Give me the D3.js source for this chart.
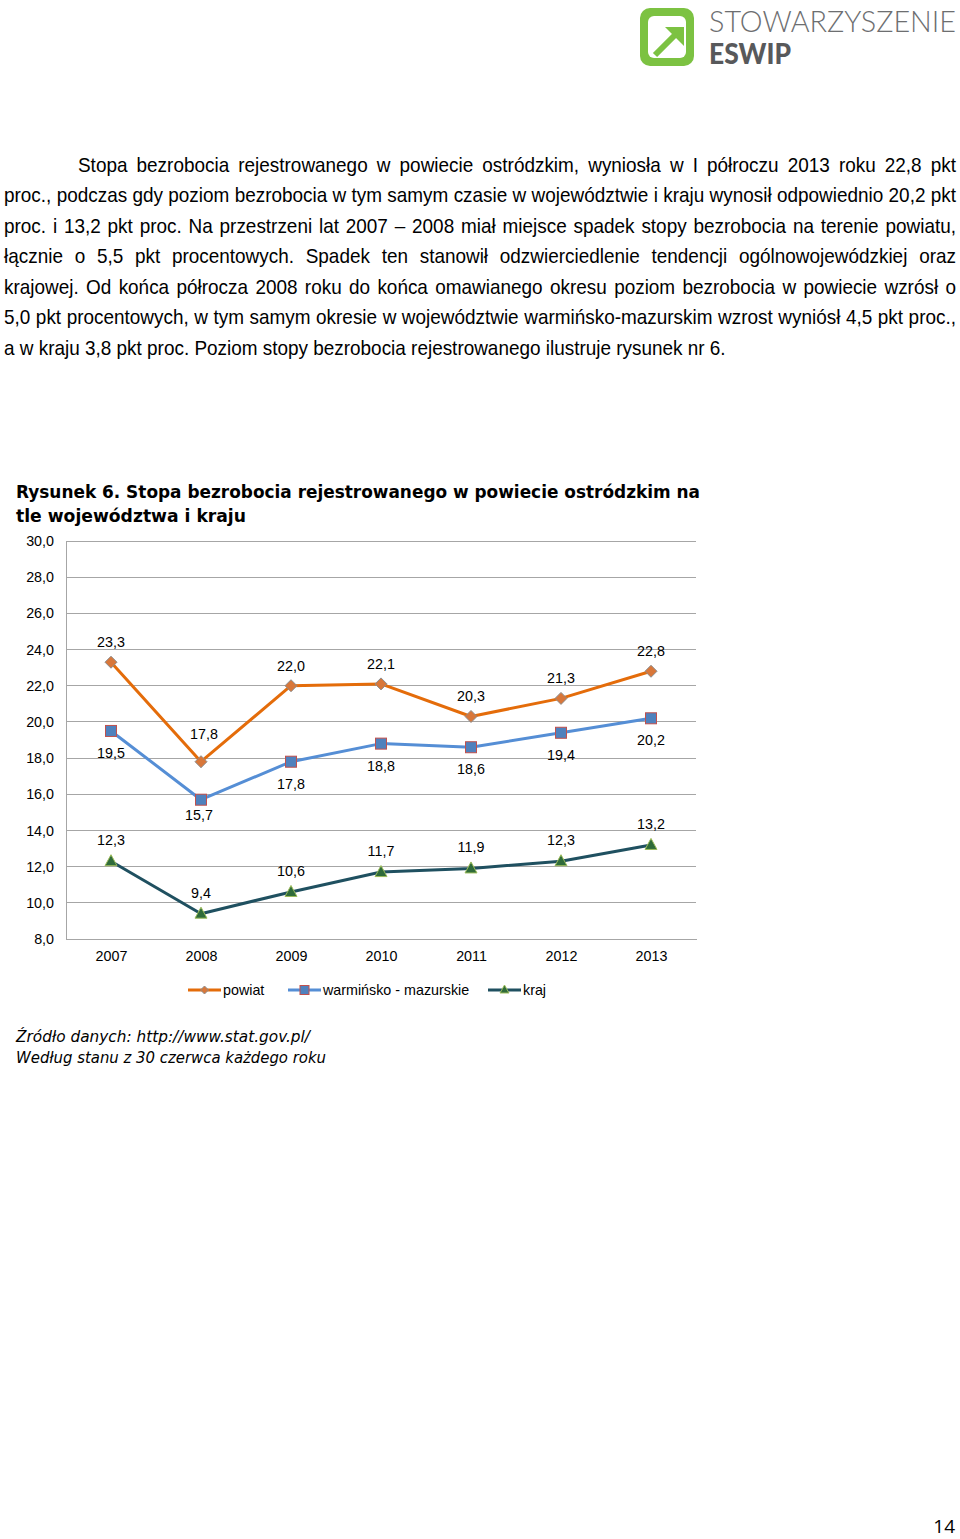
<!DOCTYPE html>
<html><head><meta charset="utf-8">
<script src="https://cdn.jsdelivr.net/npm/d3@7"></script>
<style>
html,body{margin:0;padding:0;background:#fff;}
svg{display:block;}
</style></head>
<body>
<svg id="page" width="960" height="1539"></svg>
<script>
// ---------- data ----------
const years = ["2007","2008","2009","2010","2011","2012","2013"];
const powiat = [23.3, 17.8, 22.0, 22.1, 20.3, 21.3, 22.8];
const wojewodztwo = [19.5, 15.7, 17.8, 18.8, 18.6, 19.4, 20.2];
const kraj = [12.3, 9.4, 10.6, 11.7, 11.9, 12.3, 13.2];
const yTicks = [8, 10, 12, 14, 16, 18, 20, 22, 24, 26, 28, 30];
const seriesNames = ["powiat", "warmińsko - mazurskie", "kraj"];

const paragraphLines = [
  "Stopa bezrobocia rejestrowanego w powiecie ostródzkim, wyniosła w I półroczu 2013 roku 22,8 pkt",
  "proc., podczas gdy poziom bezrobocia w tym samym czasie w województwie i kraju wynosił odpowiednio 20,2 pkt",
  "proc. i 13,2 pkt proc. Na przestrzeni lat 2007 – 2008 miał miejsce spadek stopy bezrobocia na terenie powiatu,",
  "łącznie o 5,5 pkt procentowych. Spadek ten stanowił odzwierciedlenie tendencji ogólnowojewódzkiej oraz",
  "krajowej. Od końca półrocza 2008 roku do końca omawianego okresu poziom bezrobocia w powiecie wzrósł o",
  "5,0 pkt procentowych, w tym samym okresie w województwie warmińsko-mazurskim wzrost wyniósł 4,5 pkt proc.,",
  "a w kraju 3,8 pkt proc. Poziom stopy bezrobocia rejestrowanego ilustruje rysunek nr 6."
];
const titleLines = ["Rysunek 6. Stopa bezrobocia rejestrowanego w powiecie ostródzkim na", "tle województwa i kraju"];
const sourceLines = ["Źródło danych: http://www.stat.gov.pl/", "Według stanu z 30 czerwca każdego roku"];

// ---------- page ----------
const svg = d3.select("#page");
svg.append("rect").attr("width", 960).attr("height", 1539).attr("fill", "#fff");

// logo
const logo = svg.append("g");
logo.append("rect").attr("x", 640).attr("y", 8).attr("width", 54).attr("height", 58).attr("rx", 10).attr("fill", "#7cc242");
logo.append("rect").attr("x", 648).attr("y", 16).attr("width", 38).attr("height", 42).attr("rx", 6).attr("fill", "#fff");
logo.append("line").attr("x1", 655).attr("y1", 55).attr("x2", 675).attr("y2", 35)
  .attr("stroke", "#7cc242").attr("stroke-width", 6);
logo.append("path").attr("d", "M665,27 L684,27 L684,46 Z").attr("fill", "#7cc242");
logo.append("text").attr("x", 709).attr("y", 32).text("STOWARZYSZENIE")
  .attr("font-family", "Lato, 'Open Sans', sans-serif").attr("font-weight", 300).attr("font-size", 29)
  .attr("fill", "#6d6e70").attr("textLength", 247).attr("lengthAdjust", "spacingAndGlyphs");
logo.append("text").attr("x", 709).attr("y", 64).text("ESWIP")
  .attr("font-family", "Lato, 'Open Sans', sans-serif").attr("font-weight", 900).attr("font-size", 29)
  .attr("fill", "#58595b").attr("textLength", 82).attr("lengthAdjust", "spacingAndGlyphs");

// paragraph (justified)
const pFont = "'Liberation Sans Narrow', 'Arial Narrow', 'Liberation Sans', Arial, sans-serif";
const pSize = 21;
const para = svg.append("g").attr("font-family", pFont).attr("font-size", pSize).attr("fill", "#000");
const measure = svg.append("text").attr("font-family", pFont).attr("font-size", pSize).attr("x", -9999).attr("y", -9999);
function w(s) { measure.text(s); return measure.node().getComputedTextLength(); }
const lastNatural = w(paragraphLines[6]);
const sx = 722 / lastNatural;
const pg = para.append("g").attr("transform", `scale(${sx},1)`);
const lineStep = 30.5;
paragraphLines.forEach((line, i) => {
  const y = 172 + i * lineStep;
  const x0 = (i === 0 ? 78 : 4) / sx;
  const x1 = 956 / sx;
  const words = line.split(" ");
  if (i === paragraphLines.length - 1) {
    pg.append("text").attr("x", x0).attr("y", y).text(line);
    return;
  }
  const widths = words.map(w);
  const total = d3.sum(widths);
  const gap = (x1 - x0 - total) / (words.length - 1);
  let x = x0;
  words.forEach((wd, j) => {
    pg.append("text").attr("x", x).attr("y", y).text(wd);
    x += widths[j] + gap;
  });
});
measure.remove();

// title
const tFont = "Tahoma, 'DejaVu Sans', Verdana, sans-serif";
svg.append("text").attr("x", 16).attr("y", 498).text(titleLines[0])
  .attr("font-family", tFont).attr("font-weight", "bold").attr("font-size", 17.5)
  .attr("textLength", 684).attr("lengthAdjust", "spacingAndGlyphs");
svg.append("text").attr("x", 16).attr("y", 522).text(titleLines[1])
  .attr("font-family", tFont).attr("font-weight", "bold").attr("font-size", 17.5)
  .attr("textLength", 230).attr("lengthAdjust", "spacingAndGlyphs");

// ---------- chart ----------
const locale = d3.formatLocale({decimal: ",", thousands: " ", grouping: [3], currency: ["", " zł"]});
const f1 = locale.format(".1f");
const cFont = "'Liberation Sans', Arial, sans-serif";
const cSize = 14.3;

const x = d3.scalePoint().domain(years).range([66, 696]).padding(0.5);
const y = d3.scaleLinear().domain([8, 30]).range([939, 541]);

const chart = svg.append("g").attr("font-family", cFont).attr("font-size", cSize);

// gridlines
chart.append("g").selectAll("line").data(yTicks).join("line")
  .attr("x1", 66).attr("x2", 696).attr("y1", d => y(d)).attr("y2", d => y(d))
  .attr("stroke", "#a6a6a6").attr("stroke-width", 1).attr("shape-rendering", "crispEdges");

// y axis
const yAxis = chart.append("g").attr("transform", "translate(66,0)")
  .call(d3.axisLeft(y).tickValues(yTicks).tickFormat(f1).tickSize(0).tickPadding(12));
yAxis.select(".domain").attr("stroke", "#a6a6a6").attr("shape-rendering", "crispEdges");
yAxis.selectAll("text").attr("font-family", cFont).attr("font-size", cSize).attr("fill", "#000");

// x axis
const xAxis = chart.append("g").attr("transform", "translate(0,939)")
  .call(d3.axisBottom(x).tickSize(0).tickPadding(12));
xAxis.select(".domain").attr("stroke", "#a6a6a6").attr("shape-rendering", "crispEdges");
xAxis.selectAll("text").attr("font-family", cFont).attr("font-size", cSize).attr("fill", "#000");

const styles = [
  {line: "#e46c0a", marker: "diamond", fill: "#d8773a", stroke: "#8d8d8d", labelDy: -20},
  {line: "#558ed5", marker: "square", fill: "#4f81bd", stroke: "#c0504d", labelDy: 22},
  {line: "#1f5060", marker: "triangle", fill: "#2f6b3a", stroke: "#9bbb59", labelDy: -21}
];
const labelNudge = {"0-2008": [3, -8], "1-2008": [-2, -7]};
const seriesValues = [powiat, wojewodztwo, kraj];

function drawMarker(g, type, cx, cy, s, st) {
  if (type === "diamond") {
    g.append("path").attr("d", `M${cx},${cy - s} L${cx + s},${cy} L${cx},${cy + s} L${cx - s},${cy} Z`)
      .attr("fill", st.fill).attr("stroke", st.stroke).attr("stroke-width", 1);
  } else if (type === "square") {
    g.append("rect").attr("x", cx - s).attr("y", cy - s).attr("width", 2 * s).attr("height", 2 * s)
      .attr("fill", st.fill).attr("stroke", st.stroke).attr("stroke-width", 1);
  } else {
    g.append("path").attr("d", `M${cx},${cy - s - 1} L${cx + s + 0.5},${cy + s - 1} L${cx - s - 0.5},${cy + s - 1} Z`)
      .attr("fill", st.fill).attr("stroke", st.stroke).attr("stroke-width", 1);
  }
}

const lineGen = d3.line().x((d, i) => x(years[i])).y(d => y(d));
seriesValues.forEach((vals, si) => {
  const st = styles[si];
  const g = chart.append("g");
  g.append("path").datum(vals).attr("d", lineGen).attr("fill", "none")
    .attr("stroke", st.line).attr("stroke-width", 3).attr("stroke-linejoin", "round");
  vals.forEach((v, i) => {
    drawMarker(g, st.marker, x(years[i]), y(v), st.marker === "diamond" ? 6 : 5.5, st);
  });
  vals.forEach((v, i) => {
    const n = labelNudge[si + "-" + years[i]] || [0, 0];
    g.append("text").attr("x", x(years[i]) + n[0]).attr("y", y(v) + st.labelDy + n[1])
      .attr("dy", "0.35em").attr("text-anchor", "middle").attr("fill", "#000").text(f1(v));
  });
});

// legend
const legendX = [188, 288, 488];
seriesNames.forEach((name, si) => {
  const st = styles[si];
  const g = chart.append("g");
  const lx = legendX[si];
  g.append("line").attr("x1", lx).attr("x2", lx + 33).attr("y1", 990).attr("y2", 990)
    .attr("stroke", st.line).attr("stroke-width", 3);
  drawMarker(g, st.marker, lx + 16.5, 990, st.marker === "square" ? 4.5 : 4, st);
  g.append("text").attr("x", lx + 35).attr("y", 990).attr("dy", "0.35em").attr("fill", "#000").text(name);
});

// source
const sFont = "Tahoma, 'DejaVu Sans', Verdana, sans-serif";
svg.append("text").attr("x", 16).attr("y", 1042).text(sourceLines[0])
  .attr("font-family", sFont).attr("font-style", "italic").attr("font-size", 16)
  .attr("textLength", 294).attr("lengthAdjust", "spacingAndGlyphs");
svg.append("text").attr("x", 16).attr("y", 1063).text(sourceLines[1])
  .attr("font-family", sFont).attr("font-style", "italic").attr("font-size", 16)
  .attr("textLength", 310).attr("lengthAdjust", "spacingAndGlyphs");

// page number
svg.append("text").attr("x", 955).attr("y", 1533).attr("text-anchor", "end").text("14")
  .attr("font-family", "'Open Sans', 'Liberation Sans', sans-serif").attr("font-size", 19).attr("fill", "#000");
</script>
</body></html>
